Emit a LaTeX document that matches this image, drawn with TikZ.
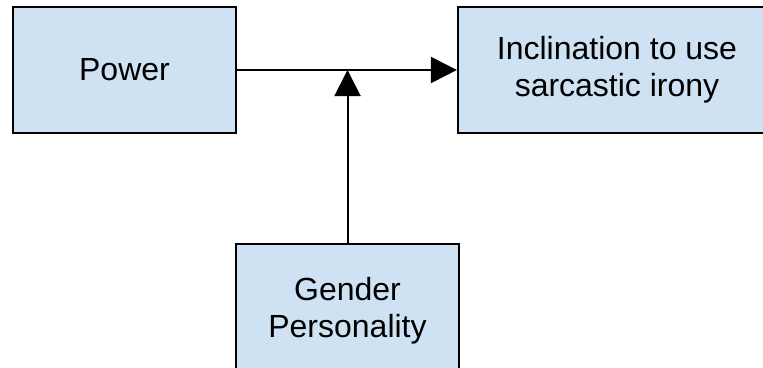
\documentclass[tikz,border=0pt]{standalone}
\usepackage{fontspec}
\setmainfont{Liberation Sans}
\usetikzlibrary{arrows.meta,calc}

\definecolor{boxblue}{HTML}{CFE2F3}
\tikzset{
  factor/.style={draw=black, line width=2.2pt, fill=boxblue, align=center,
    font=\fontsize{32pt}{37pt}\selectfont, minimum height=126pt, inner sep=0pt},
  link/.style={line width=2pt, -{Triangle[length=26pt,width=26pt]}}
}

\begin{document}
\begin{tikzpicture}[x=1pt, y=1pt]
  \useasboundingbox (0, 0) rectangle (763, -367);
  \clip (0, 0) rectangle (763, -367);
  \node [factor, minimum width=223pt] (power) at (124.5, -70) {Power};
  \node [factor, minimum width=318pt] (irony) at (617, -70) {Inclination to use\\sarcastic irony};
  \node [factor, minimum width=223pt, minimum height=134pt] (gender) at (347.5, -311) {Gender\\Personality};
  \coordinate (mod) at (power.east -| gender.north);
  \draw [link] (power) -- (irony);
  \draw [link] (gender) -- (mod);
\end{tikzpicture}
\end{document}
